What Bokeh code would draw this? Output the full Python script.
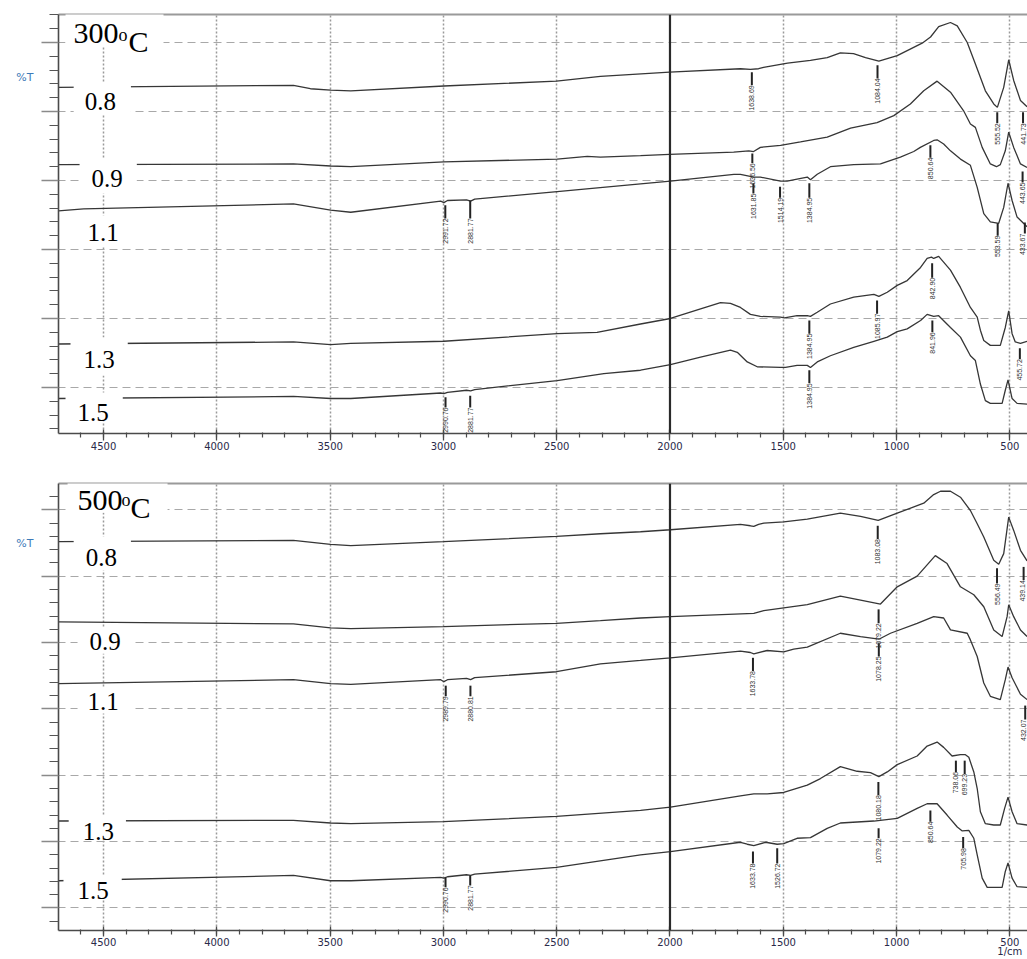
import math
from bokeh.plotting import figure
from bokeh.models import (Range1d, FixedTicker, LinearAxis, Label, Span,
                          ColumnDataSource)
from bokeh.layouts import column
from bokeh.embed import file_html
from bokeh.resources import INLINE
from bokeh.core.properties import value

# ---------------- axis / grid values ----------------
X_MAJOR = [4500, 4000, 3500, 3000, 2500, 2000, 1500, 1000, 500]
X_MINOR = list(range(4700, 400, -100))
X_DOTTED = [4500, 4000, 3500, 3000, 2500, 1500, 1000, 500]
X_SOLID = 2000
X_LIMITS = (4699, 422)
X_UNIT = "1/cm"
Y_UNIT = "%T"

SAMPLES = ["0.8", "0.9", "1.1", "1.3", "1.5"]

# ---------------- 300 oC panel: (wavenumber 1/cm, %T offset) ----------------
t300_08 = [(4699, 43.5), (3662, 43.8), (3587, 43.3), (3498, 43.1), (3409, 43.0),
           (2998, 43.7), (2501, 44.4), (2307, 45.1), (2002, 45.7), (1689, 46.2),
           (1645, 46.1), (1609, 46.2), (1587, 46.4), (1481, 47.0), (1380, 47.4),
           (1306, 47.8), (1248, 48.5), (1190, 48.4), (1137, 47.8), (1078, 47.3),
           (997, 48.1), (887, 49.9), (850, 50.8), (814, 52.3), (762, 52.9),
           (732, 52.4), (688, 50.0), (652, 46.9), (608, 43.0), (571, 41.1),
           (555, 40.6), (527, 43.5), (505, 47.5), (483, 44.5), (453, 41.6),
           (424, 40.7)]
t300_09 = [(4699, 32.3), (3662, 32.4), (3498, 32.1), (3409, 32.0), (2998, 32.7),
           (2498, 33.1), (2365, 33.5), (2307, 33.4), (2130, 33.6), (2002, 33.8),
           (1719, 34.1), (1652, 34.3), (1631, 34.2), (1601, 34.8), (1512, 35.1),
           (1424, 35.6), (1306, 36.3), (1203, 37.6), (1086, 38.4), (1012, 39.4),
           (939, 41.1), (880, 43.0), (821, 44.4), (762, 42.8), (704, 40.1),
           (674, 38.2), (652, 37.7), (622, 34.8), (586, 32.4), (559, 32.0),
           (542, 32.3), (520, 34.3), (505, 37.0), (483, 34.8), (453, 32.4),
           (424, 31.9)]
t300_11 = [(4699, 25.6), (4588, 25.9), (3662, 26.6), (3498, 25.7), (3409, 25.4),
           (3012, 27.0), (2998, 26.8), (2982, 27.1), (2898, 27.2), (2880, 27.0),
           (2862, 27.3), (2498, 28.4), (2130, 29.5), (1998, 29.9), (1718, 30.9),
           (1689, 30.9), (1630, 30.5), (1601, 30.5), (1512, 29.9), (1483, 29.9),
           (1439, 30.2), (1394, 30.5), (1380, 30.1), (1350, 30.9), (1292, 32.0),
           (1189, 32.3), (1071, 32.4), (983, 33.4), (924, 34.2), (895, 34.8),
           (836, 35.8), (821, 35.9), (792, 35.3), (762, 34.3), (718, 33.1),
           (674, 32.2), (644, 29.0), (615, 25.2), (586, 24.0), (549, 23.8),
           (527, 26.1), (508, 29.6), (490, 27.1), (468, 24.7), (424, 23.3)]
t300_13 = [(4699, 6.3), (3662, 6.6), (3498, 6.2), (3409, 6.4), (2998, 6.7),
           (2498, 7.8), (2322, 8.0), (2130, 9.2), (1998, 10.0), (1865, 11.4),
           (1777, 12.3), (1733, 12.2), (1689, 11.6), (1645, 10.6), (1601, 10.3),
           (1512, 10.2), (1495, 10.1), (1439, 10.4), (1394, 10.4), (1380, 10.3),
           (1350, 10.9), (1292, 12.1), (1189, 13.1), (1100, 13.5), (1078, 13.2),
           (1041, 13.8), (997, 14.8), (953, 15.5), (894, 17.4), (865, 18.7),
           (846, 18.9), (836, 18.7), (814, 19.0), (762, 17.0), (718, 14.5),
           (674, 11.6), (644, 10.2), (630, 8.3), (615, 6.8), (586, 6.1),
           (542, 6.1), (520, 8.7), (505, 11.1), (490, 7.8), (476, 6.6),
           (453, 6.4), (424, 6.7)]
t300_15 = [(4699, -1.6), (3662, -1.3), (3498, -1.6), (3409, -1.6), (3012, -0.8),
           (2998, -0.9), (2982, -0.7), (2898, -0.4), (2880, -0.5), (2862, -0.3),
           (2498, 1.0), (2292, 2.0), (2130, 2.5), (1998, 3.3), (1865, 4.4),
           (1733, 5.4), (1703, 5.1), (1659, 3.7), (1615, 3.0), (1512, 2.9),
           (1490, 2.9), (1439, 3.2), (1394, 3.2), (1380, 2.9), (1350, 3.7),
           (1292, 4.6), (1189, 5.8), (1100, 6.7), (1041, 7.3), (997, 8.1),
           (953, 8.5), (894, 9.7), (865, 10.6), (836, 10.3), (814, 10.4),
           (762, 8.7), (718, 7.3), (674, 4.6), (652, 3.9), (630, 0.5),
           (608, -1.9), (586, -2.3), (534, -2.3), (520, -0.4), (508, 1.1),
           (490, -1.6), (468, -2.3), (424, -2.4)]

# peak annotations: (label, marker top, marker bottom) in %T units
peaks_300 = [("1638.69", 45.7, 43.8), ("1084.04", 46.7, 44.8), ("555.52", 39.9, 38.3),
             ("441.73", 39.9, 38.3), ("1636.56", 33.9, 32.5), ("443.65", 31.3, 29.7),
             ("2991.72", 26.4, 24.5), ("2881.77", 27.1, 24.5), ("1631.85", 29.6, 28.1),
             ("1514.19", 29.1, 27.5), ("1384.95", 29.6, 27.5), ("850.64", 35.1, 33.3),
             ("553.59", 23.8, 22.0), ("433.67", 23.9, 22.3), ("1384.95", 9.7, 7.8),
             ("1085.97", 12.6, 10.7), ("842.90", 18.0, 15.9), ("455.72", 5.7, 4.1),
             ("2990.76", -1.4, -2.9), ("2881.77", -1.2, -2.9), ("1384.95", 2.5, 0.6),
             ("841.96", 9.7, 8.0)]

# ---------------- 500 oC panel ----------------
t500_08 = [(4699, 55.2), (3662, 55.4), (3498, 54.8), (3409, 54.6), (3000, 55.2),
           (2501, 56.0), (2307, 56.4), (2130, 56.7), (1998, 57.0), (1689, 57.8),
           (1645, 57.6), (1630, 57.5), (1609, 57.8), (1586, 58.0), (1498, 58.2),
           (1394, 58.6), (1248, 59.5), (1159, 59.0), (1081, 58.4), (997, 59.5),
           (880, 61.0), (836, 62.3), (806, 62.8), (762, 62.8), (718, 61.9),
           (674, 59.9), (644, 57.9), (615, 55.9), (571, 52.4), (549, 51.8),
           (527, 53.4), (505, 58.9), (483, 56.9), (453, 53.9), (424, 52.3)]
t500_09 = [(4699, 43.1), (3662, 42.8), (3498, 42.2), (3409, 42.1), (3000, 42.4),
           (2501, 42.9), (2307, 43.3), (2130, 43.7), (1998, 43.9), (1630, 44.4),
           (1586, 44.8), (1394, 45.7), (1248, 47.0), (1159, 46.4), (1071, 45.8),
           (997, 48.4), (909, 50.0), (829, 53.1), (777, 51.9), (718, 48.4),
           (659, 47.2), (615, 45.4), (571, 41.9), (534, 40.9), (512, 43.9),
           (505, 45.7), (483, 43.9), (453, 41.9), (424, 40.9)]
t500_11 = [(4699, 33.8), (3662, 34.4), (3498, 33.8), (3409, 33.7), (3012, 34.4),
           (2998, 34.1), (2982, 34.4), (2898, 34.6), (2880, 34.4), (2862, 34.7),
           (2501, 35.6), (2307, 36.8), (2130, 37.3), (1998, 37.7), (1689, 38.7),
           (1645, 38.5), (1630, 38.3), (1571, 38.8), (1498, 38.6), (1454, 39.0),
           (1394, 39.3), (1248, 41.4), (1159, 40.9), (1078, 40.5), (1027, 41.4),
           (909, 42.9), (836, 43.9), (792, 43.7), (762, 41.9), (688, 41.4),
           (674, 40.4), (644, 37.9), (615, 33.9), (586, 31.9), (542, 31.4),
           (520, 34.4), (508, 36.3), (490, 34.7), (453, 32.2), (424, 31.4)]
t500_13 = [(4699, 13.1), (3662, 13.2), (3498, 12.8), (3409, 12.7), (3000, 13.0),
           (2501, 13.8), (2130, 14.7), (1998, 15.2), (1689, 16.9), (1630, 17.2),
           (1571, 17.2), (1498, 17.4), (1394, 18.5), (1336, 19.5), (1248, 21.3),
           (1174, 20.6), (1115, 20.4), (1078, 19.8), (1041, 20.5), (997, 21.6),
           (909, 22.9), (865, 24.4), (821, 25.0), (792, 24.2), (755, 22.9),
           (718, 23.1), (696, 23.1), (681, 22.7), (659, 20.5), (644, 18.0),
           (630, 14.5), (608, 12.7), (571, 12.5), (542, 12.5), (523, 15.0),
           (508, 16.7), (490, 14.5), (468, 12.7), (424, 12.5)]
t500_15 = [(4699, 4.1), (3662, 4.9), (3498, 4.1), (3409, 4.1), (3012, 4.6),
           (2998, 4.5), (2982, 4.7), (2898, 5.0), (2880, 4.9), (2862, 5.1),
           (2501, 6.1), (2130, 8.0), (1998, 8.5), (1689, 9.9), (1659, 9.6),
           (1630, 9.4), (1578, 9.9), (1527, 9.6), (1498, 9.7), (1439, 10.5),
           (1380, 10.6), (1306, 12.0), (1248, 12.8), (1100, 13.1), (997, 13.5),
           (909, 15.0), (865, 15.7), (821, 15.7), (777, 14.0), (732, 12.2),
           (710, 11.6), (681, 11.7), (659, 10.5), (644, 8.0), (622, 4.5),
           (600, 3.1), (534, 3.1), (520, 5.5), (508, 6.8), (490, 4.5),
           (468, 3.2), (424, 3.1)]

peaks_500 = [("1083.08", 57.6, 55.6), ("556.49", 51.2, 48.9), ("439.14", 51.4, 49.4),
             ("1079.22", 45.0, 42.9), ("2989.79", 33.5, 31.9), ("2880.81", 33.5, 31.9),
             ("1633.78", 37.7, 35.7), ("1078.25", 39.9, 37.9), ("432.07", 30.5, 28.4),
             ("1080.18", 19.0, 17.0), ("738.06", 22.2, 20.5), ("699.23", 22.2, 20.2),
             ("2990.76", 4.6, 3.1), ("2881.77", 4.9, 3.4), ("1633.78", 8.5, 6.7),
             ("1526.72", 9.0, 6.7), ("1079.22", 12.0, 10.5), ("850.64", 14.7, 13.0),
             ("705.98", 10.7, 9.0)]

# label placement: box top-left (1/cm, %T units) and padding (left, right, top, bottom)
title_300 = [("300", 4668, 54.93, 30, (8, 45, 16, 3)),
             ("o", 4434, 52.6, 18, 0), ("C", 4390, 52.57, 30, 0)]
title_500 = [("500", 4659, 64.97, 30, (10, 45, 14, 3)),
             ("o", 4421, 63.02, 18, 0), ("C", 4381, 62.87, 30, 0)]
sample_pos_300 = [(4632, 44.2, (11, 15, 10, 5)), (4606, 33.19, (12, 14, 12, 6)),
                  (4624, 24.93, (12, 12, 9, 5)), (4646, 7.25, (13, 13, 14, 7)),
                  (4668, -0.72, (12, 14, 12, 0))]
sample_pos_500 = [(4632, 55.99, (12, 14, 13, 4)), (4615, 42.22, (12, 13, 5, 4)),
                  (4615, 33.23, (10, 15, 6, 3)), (4654, 13.92, (14, 12, 7, 1)),
                  (4677, 4.94, (14, 13, 7, 0))]
pct_y_300 = 45.0
pct_y_500 = 55.0

LINE_COLOR = "#363636"


def build(height, b_top, b_bottom, y_rng, y_major, y_minor, curves, peaks,
          title, sample_pos, pct_y, show_unit=False):
    p = figure(width=1027, height=height, output_backend="svg", toolbar_location=None,
               x_range=Range1d(*X_LIMITS), y_range=Range1d(*y_rng),
               min_border_left=58, min_border_right=0, min_border_top=b_top,
               min_border_bottom=b_bottom, outline_line_color=None,
               background_fill_color="white", border_fill_color="white")
    xa = p.xaxis[0]
    xa.ticker = FixedTicker(ticks=X_MAJOR, minor_ticks=X_MINOR)
    xa.axis_line_color = "#4a4a4a"
    xa.axis_line_width = 1.6
    xa.major_tick_line_color = "#4a4a4a"
    xa.major_tick_line_width = 1.3
    xa.major_tick_in = 4
    xa.major_tick_out = 7
    xa.minor_tick_line_color = "#4a4a4a"
    xa.minor_tick_line_width = 1.2
    xa.minor_tick_in = 1
    xa.minor_tick_out = 4
    xa.major_label_text_font = "DejaVu Sans"
    xa.major_label_text_font_size = "10px"
    xa.major_label_text_color = "#2a2a4a"
    xa.major_label_standoff = 1
    if show_unit:
        xa.major_label_overrides = {500: "500\n" + X_UNIT}
        xa.major_label_text_line_height = 0.85
        xa.major_label_standoff = 0
        xa.major_tick_out = 6

    ya = p.yaxis[0]
    ya.ticker = FixedTicker(ticks=y_major, minor_ticks=y_minor)
    ya.major_label_overrides = {v: "" for v in y_major}
    ya.major_label_standoff = 0
    ya.axis_line_color = "#4a4a4a"
    ya.axis_line_width = 1.6
    ya.major_tick_in = 0
    ya.major_tick_out = 17
    ya.major_tick_line_color = "#8a8a8a"
    ya.major_tick_line_width = 1.5
    ya.minor_tick_in = 0
    ya.minor_tick_out = 9
    ya.minor_tick_line_color = "#555555"
    ya.minor_tick_line_width = 1.2

    # second left axis carrying only the "%T" unit text
    unit_axis = LinearAxis(ticker=FixedTicker(ticks=[pct_y], minor_ticks=[]),
                           major_label_overrides={pct_y: Y_UNIT},
                           axis_line_color=None, major_tick_line_color=None,
                           minor_tick_line_color=None, major_tick_in=0,
                           major_tick_out=0, minor_tick_in=0, minor_tick_out=0,
                           major_label_standoff=8,
                           major_label_text_font="DejaVu Sans",
                           major_label_text_font_size="11px",
                           major_label_text_color="#3d7ab8")
    p.add_layout(unit_axis, "left")

    p.xgrid.ticker = FixedTicker(ticks=X_DOTTED)
    p.xgrid.grid_line_color = "#9a9a9a"
    p.xgrid.grid_line_dash = "2 2"
    p.xgrid.grid_line_width = 1.5
    p.ygrid.ticker = FixedTicker(ticks=y_major)
    p.ygrid.grid_line_color = "#a8a8a8"
    p.ygrid.grid_line_dash = "8 5"
    p.ygrid.grid_line_width = 1

    top_axis = LinearAxis(ticker=FixedTicker(ticks=[]), axis_line_color="#9a9a9a",
                          axis_line_width=2, major_tick_line_color=None,
                          minor_tick_line_color=None, major_tick_in=0, major_tick_out=0,
                          minor_tick_in=0, minor_tick_out=0, major_label_standoff=0)
    p.add_layout(top_axis, "above")

    p.add_layout(Span(location=X_SOLID, dimension="height", line_color="#2a2a2a",
                      line_width=2.2))

    for c in curves:
        xs = [a for a, _ in c]
        ys = [b for _, b in c]
        p.line(xs, ys, line_color=LINE_COLOR, line_width=1.3)

    xs_peak = [float(t) for t, _, _ in peaks]
    src = ColumnDataSource(dict(x=xs_peak,
                                y0=[a for _, a, _ in peaks],
                                y1=[b for _, _, b in peaks],
                                t=[t for t, _, _ in peaks],
                                dx=[-2 if x < 436 else (-1 if x < 440 else 0)
                                    for x in xs_peak]))
    p.segment(x0="x", y0="y0", x1="x", y1="y1", source=src,
              line_color="#222222", line_width=2)
    p.text(x="x", y="y1", text="t", source=src, angle=math.pi / 2,
           x_offset="dx", text_align="right", text_baseline="middle",
           text_font=value("Liberation Sans"), text_font_size="7px",
           text_color="#303030")

    # sample labels with white boxes
    for name, (sx, sy, pad) in zip(SAMPLES, sample_pos):
        p.add_layout(Label(x=sx, y=sy, text=name, text_font="Liberation Serif",
                           text_font_size="25px", text_color="black",
                           anchor="top_left", background_fill_color="white",
                           padding=pad))
    # panel title (temperature)
    for txt, tx, ty, fs, pad in title:
        kw = dict(background_fill_color="white") if pad else {}
        p.add_layout(Label(x=tx, y=ty, text=txt, text_font="Liberation Serif",
                           text_font_size=f"{fs}px", text_color="black",
                           anchor="top_left", padding=pad, **kw))
    return p


p1 = build(469, 14, 36, (-6.67, 54.06), list(range(0, 51, 10)),
           [v for v in range(-6, 55, 2) if v % 10 != 0],
           [t300_08, t300_09, t300_11, t300_13, t300_15], peaks_300,
           title_300, sample_pos_300, pct_y_300)
p2 = build(490, 14, 26, (-3.4, 63.97), list(range(0, 61, 10)),
           [v for v in range(-2, 65, 2) if v % 10 != 0],
           [t500_08, t500_09, t500_11, t500_13, t500_15], peaks_500,
           title_500, sample_pos_500, pct_y_500, show_unit=True)

layout = column(p1, p2)
with open("out.html", "w") as f:
    f.write(file_html(layout, INLINE))
